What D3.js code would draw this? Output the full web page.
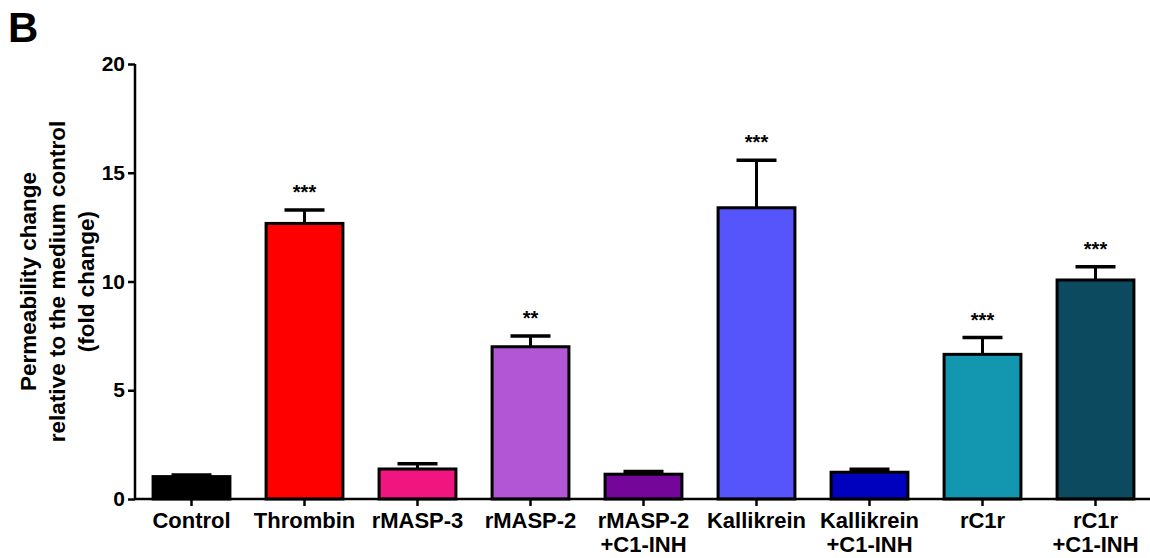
<!DOCTYPE html>
<html>
<head>
<meta charset="utf-8">
<script src="https://cdn.jsdelivr.net/npm/d3@7"></script>
<style>
  body { margin: 0; background: #fff; }
  text { font-family: "Liberation Sans", Arial, sans-serif; font-weight: bold; }
</style>
</head>
<body>
<script>
//data
const groups = ["Control", "Thrombin", "rMASP-3", "rMASP-2", "rMASP-2\n+C1-INH",
  "Kallikrein", "Kallikrein\n+C1-INH", "rC1r", "rC1r\n+C1-INH"];
const means = [1.03, 12.67, 1.38, 7.0, 1.14, 13.39, 1.23, 6.65, 10.07];
const errors = [0.07, 0.62, 0.24, 0.49, 0.12, 2.18, 0.14, 0.77, 0.61];
const stars = ["", "***", "", "**", "", "***", "", "***", "***"];
const yTicks = [0, 5, 10, 15, 20];
const barColors = ["#000000", "#ff0000", "#f0157f", "#b356d6", "#75069a",
  "#5555fb", "#0000bf", "#1396b0", "#0b4a5f"];

//SVG setup
const W = 1150, H = 558;
const margin = { top: 64, right: 0, bottom: 59, left: 135 };

const svg = d3.select("body").append("svg")
  .attr("width", W)
  .attr("height", H);

//scales
const x = d3.scaleBand()
  .domain(groups)
  .range([margin.left, margin.left + 113 * groups.length])
  .paddingInner(0.32)
  .paddingOuter(0.16);

const y = d3.scaleLinear()
  .domain([0, 20])
  .range([H - margin.bottom, margin.top]);

const color = d3.scaleOrdinal().domain(groups).range(barColors);

const data = groups.map((g, i) => ({ g: g, m: means[i], e: errors[i], s: stars[i] }));

//panel letter
svg.append("text")
  .attr("x", 8).attr("y", 42)
  .style("font-size", "42px")
  .text("B");

//bars
svg.selectAll("rect.bar")
  .data(data)
  .enter()
  .append("rect")
  .attr("class", "bar")
  .attr("x", d => x(d.g))
  .attr("y", d => y(d.m))
  .attr("width", x.bandwidth())
  .attr("height", d => y(0) - y(d.m))
  .attr("fill", d => color(d.g))
  .attr("stroke", "#000")
  .attr("stroke-width", 3);

//error bars (upper only)
const eb = svg.selectAll("g.err").data(data).enter().append("g").attr("class", "err");
eb.append("line")
  .attr("x1", d => x(d.g) + x.bandwidth() / 2)
  .attr("x2", d => x(d.g) + x.bandwidth() / 2)
  .attr("y1", d => y(d.m))
  .attr("y2", d => y(d.m + d.e))
  .attr("stroke", "#000")
  .attr("stroke-width", 3);
eb.append("line")
  .attr("x1", d => x(d.g) + x.bandwidth() / 2 - 20)
  .attr("x2", d => x(d.g) + x.bandwidth() / 2 + 20)
  .attr("y1", d => y(d.m + d.e))
  .attr("y2", d => y(d.m + d.e))
  .attr("stroke", "#000")
  .attr("stroke-width", 3.5);

//significance stars
svg.selectAll("text.star")
  .data(data.filter(d => d.s))
  .enter()
  .append("text")
  .attr("class", "star")
  .attr("x", d => x(d.g) + x.bandwidth() / 2)
  .attr("y", d => y(d.m + d.e) - 11)
  .attr("text-anchor", "middle")
  .style("font-size", "20px")
  .text(d => d.s);

//y axis
const yAxis = svg.append("g")
  .attr("transform", `translate(${margin.left},0)`)
  .call(d3.axisLeft(y).tickValues(yTicks).tickSize(7).tickPadding(3));
yAxis.select(".domain").attr("d", `M0,${y(20)}V${y(0)}`).attr("stroke-width", 2.5);
yAxis.selectAll(".tick line").attr("stroke-width", 2.5);
yAxis.selectAll(".tick text")
  .style("font-size", "21px")
  .style("font-family", "Liberation Sans, Arial, sans-serif")
  .style("font-weight", "bold")
  .attr("fill", "#000");

//x axis
const xAxis = svg.append("g")
  .attr("transform", `translate(0,${y(0)})`)
  .call(d3.axisBottom(x).tickSize(7).tickFormat(""));
xAxis.select(".domain").attr("d", `M${margin.left},0H${W}`).attr("stroke-width", 2.5);
xAxis.selectAll(".tick line").attr("stroke-width", 2.5);

//x labels, two lines where needed
xAxis.selectAll(".tick")
  .append("text")
  .attr("fill", "#000")
  .attr("text-anchor", "middle")
  .style("font-size", "22px")
  .style("font-family", "Liberation Sans, Arial, sans-serif")
  .style("font-weight", "bold")
  .each(function (d) {
    const lines = d.split("\n");
    const t = d3.select(this);
    lines.forEach((l, i) => {
      t.append("tspan").attr("x", 0).attr("y", 29 + i * 24).text(l);
    });
  });

//y title
const titleLines = ["Permeability change", "relative to the medium control", "(fold change)"];
svg.append("text")
  .attr("transform", `translate(0,${(y(0) + y(20)) / 2}) rotate(-90)`)
  .attr("text-anchor", "middle")
  .style("font-size", "22.5px")
  .selectAll("tspan")
  .data(titleLines)
  .enter()
  .append("tspan")
  .attr("x", 0)
  .attr("y", (d, i) => 36 + i * 29)
  .text(d => d);
</script>
</body>
</html>
